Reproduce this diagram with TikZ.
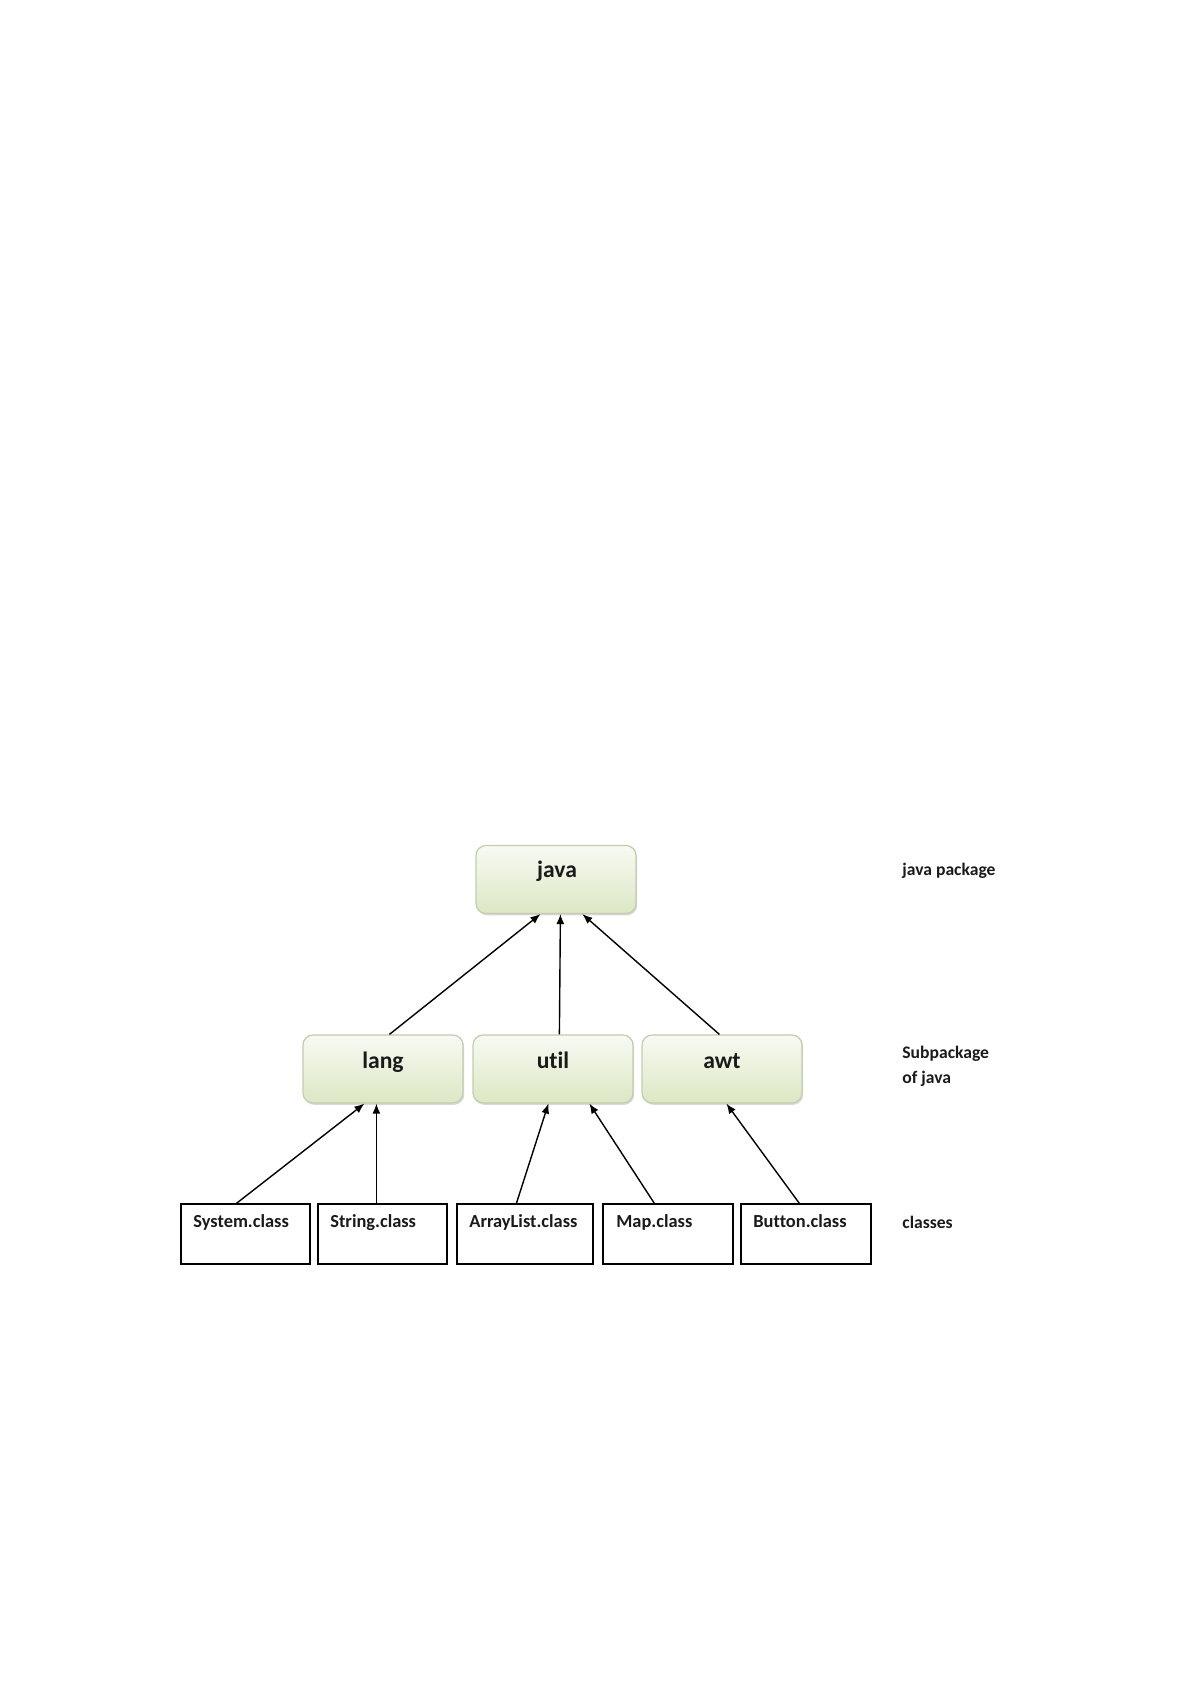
\documentclass[tikz,border=0pt]{standalone}
\usepackage{fontspec}
\setmainfont{Carlito}[Ligatures={NoCommon,NoContextual}]
\usetikzlibrary{calc,arrows.meta,shadows}
\definecolor{pkgtop}{HTML}{F8FAF3}
\definecolor{pkgbot}{HTML}{DCE7C3}
\definecolor{pkgline}{HTML}{C3CCAF}
\definecolor{txt}{HTML}{1A1A1A}
\tikzset{
  pkg/.style={draw=pkgline, line width=0.6pt, rounded corners=5pt, top color=pkgtop, bottom color=pkgbot,
    minimum width=80pt, minimum height=34pt, inner sep=0pt,
    drop shadow={shadow xshift=0.6pt, shadow yshift=-0.9pt, opacity=0.25, fill=black!60}},
  pkglabel/.style={font=\fontsize{11.8}{13}\selectfont\bfseries, text=txt, anchor=base, inner sep=0pt},
  cls/.style={draw=black, line width=0.6pt, fill=white, minimum width=64.5pt, minimum height=30pt, inner sep=0pt},
  clslabel/.style={font=\fontsize{9.2}{10}\selectfont\bfseries, text=txt, anchor=base west, inner sep=0pt},
  side/.style={font=\fontsize{8.8}{10.5}\selectfont\bfseries, text=txt, anchor=base west, inner sep=0pt},
  arr/.style={line width=0.7pt, -{Latex[length=5pt,width=4pt]}}
}
\begin{document}
\begin{tikzpicture}[x=0.5pt,y=-0.5pt]
\useasboundingbox (0,0) rectangle (1191,1685);
% packages
\node[pkg] (java) at (556,879.5) {};
\node[pkg] (lang) at (383,1069) {};
\node[pkg] (util) at (553,1069) {};
\node[pkg] (awt) at (722,1069) {};
\node[pkglabel] (tjava) at (557,877) {java};
\node[pkglabel] (tlang) at (383,1068) {lang};
\node[pkglabel] (tutil) at (553,1068) {util};
\node[pkglabel] (tawt) at (722,1068) {awt};
% classes
\node[cls, minimum width=64.5pt] (sys) at (245.5,1234) {};
\node[cls, minimum width=64.5pt] (str) at (382.5,1234) {};
\node[cls, minimum width=68pt] (al) at (525,1234) {};
\node[cls, minimum width=65pt] (map) at (668,1234) {};
\node[cls, minimum width=65pt] (btn) at (806,1234) {};
\node[clslabel] (tsys) at (193,1227) {System.class};
\node[clslabel] (tstr) at (330,1227) {String.class};
\node[clslabel] (tal) at (469,1227) {ArrayList.class};
\node[clslabel] (tmap) at (616,1227) {Map.class};
\node[clslabel] (tbtn) at (753,1227) {Button.class};
% side labels
\node[side] (s1) at (902,875) {java package};
\node[side] (s2a) at (902,1058) {Subpackage};
\node[side] (s2b) at (902,1083) {of java};
\node[side] (s3) at (902,1228) {classes};
% connectors
\draw[arr] ($(lang.north west)+(87,0)$) -- ($(java.south west)+(65,0)$);
\draw[arr] ($(util.north west)+(87,0)$) -- ($(java.south west)+(85,0)$);
\draw[arr] ($(awt.north west)+(78,0)$) -- ($(java.south west)+(107,0)$);
\draw[arr] ($(sys.north west)+(56,0)$) -- ($(lang.south west)+(62,0)$);
\draw[arr] ($(str.north west)+(59,0)$) -- ($(lang.south west)+(74,0)$);
\draw[arr] ($(al.north west)+(60,0)$) -- ($(util.south west)+(76,0)$);
\draw[arr] ($(map.north west)+(52,0)$) -- ($(util.south west)+(117,0)$);
\draw[arr] ($(btn.north west)+(59,0)$) -- ($(awt.south west)+(85,0)$);
\end{tikzpicture}
\end{document}
